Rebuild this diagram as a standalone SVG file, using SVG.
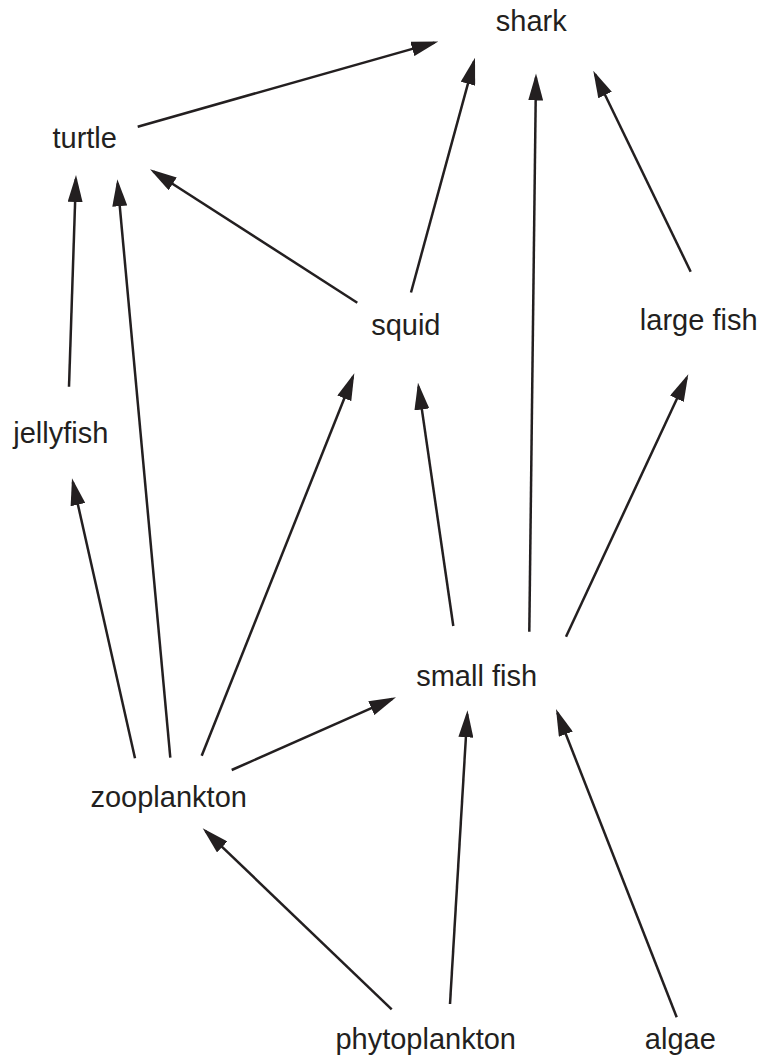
<svg xmlns="http://www.w3.org/2000/svg" width="764" height="1059" viewBox="0 0 764 1059">
<style>
.lbl{font-family:"Liberation Sans",Arial,Helvetica,sans-serif;font-size:29px;fill:#231f20;text-anchor:middle;}
.edge{stroke:#231f20;stroke-width:2.5;fill:none;marker-end:url(#ah);}
</style>
<defs>
<marker id="ah" markerUnits="userSpaceOnUse" markerWidth="27" markerHeight="15" viewBox="0 0 27 15" refX="23" refY="7.5" orient="auto">
<path d="M0,0 L27,7.5 L0,15 Z" fill="#231f20"/>
</marker>
</defs>
<rect width="764" height="1059" fill="#ffffff"/>
<g id="connectors">
<line class="edge" x1="137.7" y1="126.7" x2="434.45" y2="42.59"/>
<line class="edge" x1="411" y1="292.5" x2="473.95" y2="61.56"/>
<line class="edge" x1="529.3" y1="631.7" x2="535.95" y2="77.5"/>
<line class="edge" x1="690.7" y1="271.7" x2="595.04" y2="74.3"/>
<line class="edge" x1="357.3" y1="302.7" x2="153.36" y2="171.46"/>
<line class="edge" x1="69" y1="386.7" x2="75.87" y2="179"/>
<line class="edge" x1="170.3" y1="757.7" x2="117.67" y2="183.28"/>
<line class="edge" x1="135" y1="758.3" x2="72.88" y2="482.2"/>
<line class="edge" x1="201.7" y1="755.7" x2="352.82" y2="377.02"/>
<line class="edge" x1="453.3" y1="626" x2="418.57" y2="386.66"/>
<line class="edge" x1="566" y1="636.7" x2="686.61" y2="377.93"/>
<line class="edge" x1="231.7" y1="770" x2="392.34" y2="698.92"/>
<line class="edge" x1="391.7" y1="1009.3" x2="205.59" y2="831.07"/>
<line class="edge" x1="450" y1="1004" x2="467.26" y2="714.29"/>
<line class="edge" x1="676.7" y1="1017.3" x2="557.46" y2="712.72"/>
</g>
<g id="shark"><text class="lbl" x="531.3" y="30.5">shark</text></g>
<g id="turtle"><text class="lbl" x="84.7" y="147.7">turtle</text></g>
<g id="squid"><text class="lbl" x="405.8" y="334.5">squid</text></g>
<g id="large-fish"><text class="lbl" x="698.7" y="330">large fish</text></g>
<g id="jellyfish"><text class="lbl" x="60.8" y="442.7">jellyfish</text></g>
<g id="small-fish"><text class="lbl" x="476.6" y="686">small fish</text></g>
<g id="zooplankton"><text class="lbl" x="168.7" y="806.7">zooplankton</text></g>
<g id="phytoplankton"><text class="lbl" x="425.7" y="1049">phytoplankton</text></g>
<g id="algae"><text class="lbl" x="680.3" y="1049">algae</text></g>
</svg>
